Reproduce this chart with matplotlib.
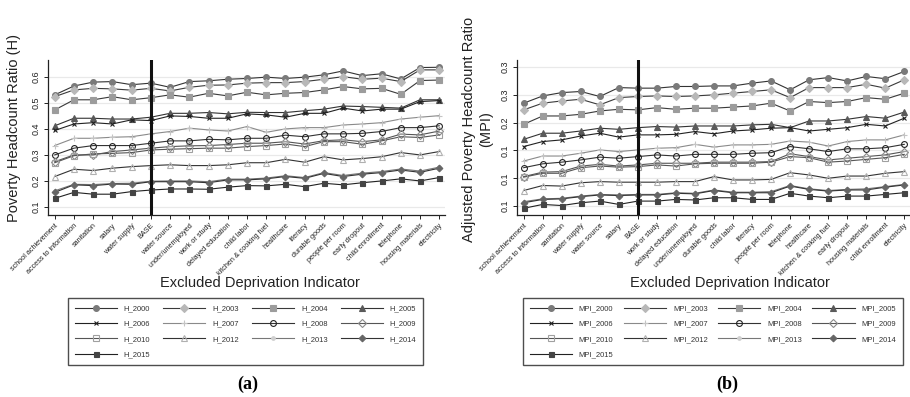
#coding:utf-8

import numpy as np
import matplotlib
matplotlib.use("Agg")
import matplotlib.pyplot as plt

plt.rcParams['font.family'] = ['Liberation Sans', 'DejaVu Sans']

years = ["2000", "2003", "2004", "2005", "2006", "2007", "2008",
         "2009", "2010", "2012", "2013", "2014", "2015"]

h_labels = ["school achievement", "access to information", "sanitation", "salary",
            "water supply", "BASE", "water source", "under/unemployed", "work or study",
            "delayed education", "child labor", "kitchen & cooking fuel", "healthcare",
            "literacy", "durable goods", "people per room", "early dropout",
            "child enrollment", "telephone", "housing materials", "electricity"]

mpi_labels = ["school achievement", "access to information", "sanitation", "water supply",
              "water source", "salary", "BASE", "work or study", "delayed education",
              "under/unemployed", "durable goods", "child labor", "literacy",
              "people per room", "telephone", "healthcare", "kitchen & cooking fuel",
              "early dropout", "housing materials", "child enrollment", "electricity"]

H_2000 = [0.531,0.565,0.580,0.582,0.570,0.576,0.560,0.582,0.585,0.591,0.594,0.599,0.594,0.599,0.608,0.623,0.605,0.612,0.592,0.636,0.637]
H_2003 = [0.524,0.550,0.556,0.554,0.549,0.556,0.546,0.560,0.568,0.569,0.576,0.578,0.578,0.582,0.591,0.601,0.591,0.595,0.582,0.627,0.627]
H_2004 = [0.473,0.512,0.512,0.524,0.512,0.520,0.531,0.522,0.537,0.527,0.541,0.531,0.537,0.540,0.550,0.563,0.554,0.556,0.533,0.586,0.588]
H_2005 = [0.412,0.441,0.441,0.438,0.438,0.445,0.460,0.460,0.463,0.458,0.464,0.463,0.463,0.470,0.476,0.488,0.486,0.483,0.480,0.512,0.512]
H_2006 = [0.394,0.419,0.424,0.419,0.435,0.432,0.450,0.448,0.441,0.441,0.458,0.454,0.445,0.460,0.460,0.480,0.469,0.476,0.476,0.505,0.509]
H_2007 = [0.336,0.364,0.364,0.368,0.370,0.381,0.390,0.403,0.396,0.392,0.409,0.387,0.400,0.405,0.405,0.415,0.419,0.424,0.438,0.445,0.451]
H_2008 = [0.300,0.326,0.336,0.336,0.336,0.345,0.354,0.354,0.360,0.358,0.364,0.364,0.376,0.370,0.381,0.381,0.383,0.390,0.405,0.405,0.412]
H_2009 = [0.274,0.300,0.300,0.313,0.319,0.326,0.332,0.335,0.336,0.340,0.345,0.345,0.351,0.342,0.355,0.358,0.351,0.358,0.380,0.377,0.392]
H_2010 = [0.270,0.297,0.304,0.306,0.309,0.319,0.322,0.324,0.326,0.326,0.332,0.336,0.342,0.332,0.351,0.351,0.341,0.354,0.370,0.367,0.377]
H_2012 = [0.217,0.245,0.240,0.249,0.255,0.259,0.262,0.259,0.259,0.262,0.270,0.270,0.283,0.272,0.293,0.281,0.286,0.293,0.309,0.300,0.313]
H_2013 = [0.162,0.187,0.186,0.190,0.191,0.199,0.200,0.200,0.197,0.207,0.207,0.211,0.220,0.213,0.232,0.221,0.230,0.236,0.246,0.238,0.253]
H_2014 = [0.156,0.185,0.182,0.188,0.187,0.197,0.197,0.197,0.193,0.204,0.204,0.208,0.217,0.210,0.229,0.217,0.226,0.232,0.242,0.233,0.249]
H_2015 = [0.133,0.156,0.149,0.149,0.159,0.165,0.169,0.169,0.168,0.176,0.182,0.181,0.187,0.178,0.191,0.185,0.193,0.200,0.208,0.200,0.213]

MPI_2000 = [0.235,0.248,0.254,0.256,0.247,0.263,0.262,0.262,0.265,0.265,0.266,0.266,0.271,0.275,0.259,0.277,0.281,0.275,0.283,0.279,0.292]
MPI_2003 = [0.223,0.235,0.239,0.242,0.232,0.245,0.247,0.248,0.247,0.248,0.250,0.253,0.256,0.259,0.245,0.263,0.263,0.263,0.269,0.262,0.277]
MPI_2004 = [0.197,0.212,0.212,0.215,0.221,0.224,0.223,0.227,0.224,0.226,0.226,0.228,0.230,0.235,0.221,0.238,0.236,0.238,0.245,0.242,0.253]
MPI_2005 = [0.170,0.181,0.181,0.185,0.190,0.188,0.191,0.193,0.192,0.194,0.194,0.194,0.196,0.197,0.191,0.203,0.203,0.206,0.211,0.208,0.219]
MPI_2006 = [0.157,0.166,0.169,0.176,0.181,0.174,0.178,0.178,0.179,0.184,0.180,0.185,0.187,0.190,0.191,0.185,0.188,0.191,0.197,0.194,0.208]
MPI_2007 = [0.131,0.140,0.140,0.145,0.151,0.148,0.151,0.154,0.155,0.161,0.156,0.160,0.160,0.161,0.167,0.165,0.158,0.166,0.169,0.169,0.178]
MPI_2008 = [0.119,0.126,0.129,0.133,0.138,0.136,0.139,0.142,0.140,0.143,0.143,0.143,0.145,0.146,0.157,0.153,0.148,0.153,0.153,0.155,0.161]
MPI_2009 = [0.103,0.111,0.112,0.122,0.125,0.122,0.124,0.127,0.127,0.127,0.129,0.129,0.129,0.130,0.144,0.139,0.133,0.136,0.139,0.142,0.148]
MPI_2010 = [0.102,0.109,0.109,0.119,0.122,0.120,0.121,0.124,0.122,0.126,0.127,0.127,0.127,0.129,0.139,0.137,0.129,0.131,0.134,0.137,0.143]
MPI_2012 = [0.078,0.087,0.086,0.092,0.094,0.093,0.093,0.093,0.094,0.094,0.103,0.097,0.097,0.098,0.110,0.106,0.100,0.104,0.104,0.109,0.112]
MPI_2013 = [0.058,0.063,0.064,0.068,0.071,0.070,0.071,0.071,0.074,0.073,0.079,0.075,0.075,0.076,0.087,0.081,0.078,0.080,0.081,0.085,0.089]
MPI_2014 = [0.056,0.062,0.063,0.067,0.070,0.069,0.070,0.070,0.073,0.072,0.078,0.074,0.074,0.074,0.086,0.080,0.077,0.079,0.079,0.084,0.088]
MPI_2015 = [0.046,0.053,0.051,0.056,0.059,0.053,0.059,0.059,0.062,0.061,0.065,0.065,0.062,0.062,0.073,0.068,0.065,0.068,0.068,0.071,0.074]

H_series = [H_2000, H_2003, H_2004, H_2005, H_2006, H_2007, H_2008,
            H_2009, H_2010, H_2012, H_2013, H_2014, H_2015]
MPI_series = [MPI_2000, MPI_2003, MPI_2004, MPI_2005, MPI_2006, MPI_2007, MPI_2008,
              MPI_2009, MPI_2010, MPI_2012, MPI_2013, MPI_2014, MPI_2015]

# marker, face, edge, size, line colour
styles = [
    ('o', '#7a7a7a', '#7a7a7a', 4.2, '#333333'),
    ('D', '#b8b8b8', '#b8b8b8', 3.6, '#3a3a3a'),
    ('s', '#9c9c9c', '#9c9c9c', 4.0, '#3a3a3a'),
    ('^', '#5a5a5a', '#5a5a5a', 4.2, '#333333'),
    ('x', '#222222', '#222222', 3.2, '#222222'),
    ('+', '#c4c4c4', '#c4c4c4', 4.0, '#8a8a8a'),
    ('o', 'none', '#222222', 4.2, '#333333'),
    ('D', 'none', '#8a8a8a', 3.6, '#555555'),
    ('s', 'none', '#a0a0a0', 4.0, '#555555'),
    ('^', 'none', '#b0b0b0', 4.2, '#333333'),
    ('o', '#cfcfcf', '#cfcfcf', 2.6, '#777777'),
    ('D', '#666666', '#666666', 3.4, '#333333'),
    ('s', '#444444', '#444444', 3.6, '#222222'),
]

# legend is filled row by row in the original, matplotlib goes column by column
legend_order = [0, 4, 8, 12, 1, 5, 9, 2, 6, 10, 3, 7, 11]


def draw_panel(ax, labels, series, prefix, base_idx, ylim, yticks, yticklabels):
    x = np.arange(len(labels))
    handles = []
    for vals, yr, st in zip(series, years, styles):
        m, fc, ec, ms, lc = st
        ln, = ax.plot(x, vals, color=lc, lw=0.8, marker=m, mfc=fc, mec=ec,
                      ms=ms, mew=0.8, label=prefix + yr, zorder=3)
        handles.append(ln)
    ax.axvline(base_idx, color='#111111', lw=2.2, zorder=4)
    ax.set_xlim(-0.35, 20.3)
    ax.set_ylim(*ylim)
    ax.set_yticks(yticks)
    ax.set_yticklabels(yticklabels, rotation=90, va='center', fontsize=6.5, color='#222222')
    ax.set_xticks(x)
    ax.set_xticklabels(labels, rotation=45, ha='right', rotation_mode='anchor',
                       fontsize=5.2, color='#222222')
    ax.yaxis.grid(True, color='#e9e9e9', lw=0.9, zorder=0)
    ax.set_axisbelow(True)
    for s in ['top', 'right']:
        ax.spines[s].set_visible(False)
    for s in ['left', 'bottom']:
        ax.spines[s].set_color('#222222')
        ax.spines[s].set_linewidth(0.9)
    ax.tick_params(axis='both', length=3, width=0.7, color='#222222', pad=2)
    return handles


fig = plt.figure(figsize=(9.1, 3.97), dpi=100)
W, H = 910.0, 397.0

ax1 = fig.add_axes([48 / W, 1 - 215 / H, 397 / W, 155 / H])
ax2 = fig.add_axes([517 / W, 1 - 215 / H, 393 / W, 155 / H])

h1 = draw_panel(ax1, h_labels, H_series, "H_", 5, (0.069, 0.665),
                [0.1, 0.2, 0.3, 0.4, 0.5, 0.6],
                ["0.1", "0.2", "0.3", "0.4", "0.5", "0.6"])
h2 = draw_panel(ax2, mpi_labels, MPI_series, "MPI_", 6, (0.034, 0.3126),
                [0.05, 0.10, 0.15, 0.20, 0.25, 0.30],
                ["0.1", "0.1", "0.1", "0.2", "0.3", "0.3"])

ax1.set_ylabel("Poverty Headcount Ratio (H)", fontsize=10.5, color='#222222')
ax1.yaxis.set_label_coords(-0.068, 0.56)
ax2.set_ylabel("Adjusted Poverty Headcount Ratio\n(MPI)", fontsize=10.5,
               color='#222222', linespacing=1.25)
ax2.yaxis.set_label_coords(-0.061, 0.555)

fig.text(260 / W, 1 - 283 / H, "Excluded Deprivation Indicator", fontsize=10.5,
         ha='center', va='center', color='#222222')
fig.text(730 / W, 1 - 283 / H, "Excluded Deprivation Indicator", fontsize=10.5,
         ha='center', va='center', color='#222222')

for ax, hd, x0, x1 in [(ax1, h1, 68, 423), (ax2, h2, 523, 903)]:
    hd = [hd[i] for i in legend_order]
    leg = ax.legend(handles=hd, loc='upper left', ncol=4, mode='expand',
                    bbox_to_anchor=(x0 / W, 1 - 298 / H, (x1 - x0) / W, 0.0),
                    bbox_transform=fig.transFigure, fontsize=5.5, handlelength=5.5,
                    handletextpad=0.9, labelspacing=1.05, borderpad=0.9,
                    columnspacing=1.0, frameon=True, fancybox=False, borderaxespad=0)
    leg.get_frame().set_edgecolor('#222222')
    leg.get_frame().set_linewidth(1.0)
    for t in leg.get_texts():
        t.set_color('#333333')

fig.text(248 / W, 1 - 384 / H, "(a)", fontsize=13, fontweight='bold',
         family='Liberation Serif', ha='center', va='center')
fig.text(727 / W, 1 - 384 / H, "(b)", fontsize=13, fontweight='bold',
         family='Liberation Serif', ha='center', va='center')

fig.savefig("out.png", dpi=100)
